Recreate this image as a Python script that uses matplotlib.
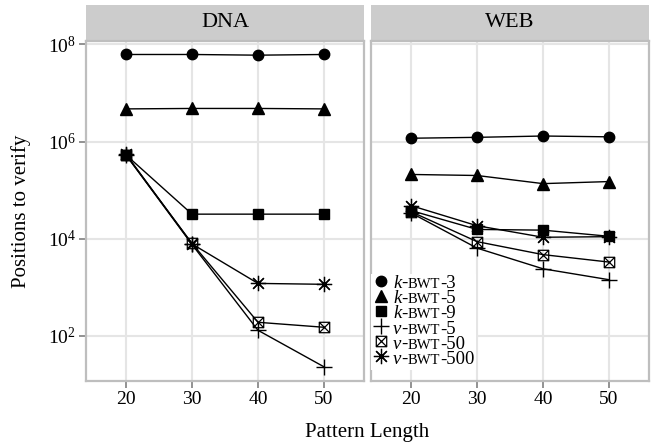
import matplotlib
matplotlib.use("Agg")
import matplotlib.pyplot as plt
from matplotlib.patches import Rectangle
from matplotlib.path import Path
from matplotlib.lines import Line2D
from matplotlib.ticker import LogLocator, LogFormatterMathtext, NullLocator, FixedLocator
from matplotlib.offsetbox import AnchoredOffsetbox, VPacker, HPacker, TextArea, DrawingArea

plt.rcParams['font.family'] = ['Liberation Serif', 'DejaVu Serif']
plt.rcParams['mathtext.fontset'] = 'stix'

# ---------------- data ----------------
pattern_length = [20, 30, 40, 50]
panels = ["DNA", "WEB"]
series_names = ["k-BWT-3", "k-BWT-5", "k-BWT-9", "v-BWT-5", "v-BWT-50", "v-BWT-500"]

dna_k3 = [6.2e7, 6.2e7, 6.0e7, 6.2e7]
dna_k5 = [4.7e6, 4.8e6, 4.8e6, 4.7e6]
dna_k9 = [5.3e5, 3.2e4, 3.2e4, 3.2e4]
dna_v5 = [5.3e5, 7.6e3, 1.3e2, 2.3e1]
dna_v50 = [5.3e5, 8.0e3, 1.9e2, 1.5e2]
dna_v500 = [5.5e5, 7.8e3, 1.2e3, 1.15e3]

web_k3 = [1.17e6, 1.22e6, 1.30e6, 1.25e6]
web_k5 = [2.1e5, 2.0e5, 1.36e5, 1.5e5]
web_k9 = [3.8e4, 1.55e4, 1.5e4, 1.12e4]
web_v5 = [3.4e4, 6.4e3, 2.4e3, 1.43e3]
web_v50 = [3.6e4, 8.7e3, 4.7e3, 3.3e3]
web_v500 = [4.8e4, 1.85e4, 1.07e4, 1.1e4]

panel_data = {
    "DNA": [dna_k3, dna_k5, dna_k9, dna_v5, dna_v50, dna_v500],
    "WEB": [web_k3, web_k5, web_k9, web_v5, web_v50, web_v500],
}

# ---------------- styles ----------------
boxx = Path([(-1, -1), (1, -1), (1, 1), (-1, 1), (-1, -1), (1, 1), (-1, 1), (1, -1)],
            [Path.MOVETO, Path.LINETO, Path.LINETO, Path.LINETO, Path.CLOSEPOLY,
             Path.LINETO, Path.MOVETO, Path.LINETO])
marker_styles = [
    dict(marker='o', markersize=7.5, markerfacecolor='black', markeredgecolor='black'),
    dict(marker='^', markersize=8.5, markerfacecolor='black', markeredgecolor='black'),
    dict(marker='s', markersize=7.5, markerfacecolor='black', markeredgecolor='black'),
    dict(marker='+', markersize=11, markeredgewidth=1.0, markeredgecolor='black'),
    dict(marker=boxx, markersize=7.5, markerfacecolor='none', markeredgewidth=0.9, markeredgecolor='black'),
    dict(marker=(8, 2, 0), markersize=11, markeredgewidth=0.9, markeredgecolor='black'),
]

grid_c = '#E5E5E5'
border_c = '#BEBEBE'
strip_c = '#CCCCCC'

fig = plt.figure(figsize=(6.62, 4.46), dpi=100)
W, H = 662.0, 446.0
lefts = [86, 371]
rights = [364, 649]
top_px, bot_px = 41, 381
axes = []
for i, name in enumerate(panels):
    ax = fig.add_axes([lefts[i] / W, 1 - bot_px / H, (rights[i] - lefts[i]) / W, (bot_px - top_px) / H])
    axes.append(ax)
    ax.set_yscale('log')
    ax.set_xlim(13.94, 56.06)
    ax.set_ylim(10 ** 1.07, 10 ** 8.07)
    ax.xaxis.set_major_locator(FixedLocator(pattern_length))
    ax.yaxis.set_major_locator(LogLocator(base=100.0, numticks=10))
    ax.yaxis.set_minor_locator(NullLocator())
    ax.yaxis.set_major_formatter(LogFormatterMathtext(base=10))
    ax.grid(True, which='major', color=grid_c, linewidth=1.5, zorder=0)
    ax.set_axisbelow(True)
    for s in ax.spines.values():
        s.set_color(border_c)
        s.set_linewidth(1.6)
    ax.tick_params(axis='both', which='major', direction='out', length=5, width=1.2,
                   color='#7F7F7F', labelsize=14, pad=2, labelcolor='black')
    if i > 0:
        ax.tick_params(axis='y', left=False, labelleft=False)
    for vals, st in zip(panel_data[name], marker_styles):
        ax.plot(pattern_length, vals, color='black', linewidth=1.0, zorder=3, **st)
    # strip
    strip_h = (top_px - 5.5) / (bot_px - top_px)
    ax.add_patch(Rectangle((0, 1 + 1.5 / (bot_px - top_px)), 1, strip_h - 1.5 / (bot_px - top_px),
                           transform=ax.transAxes, facecolor=strip_c, edgecolor='none', clip_on=False))
    ax.text(0.5, 1 + strip_h / 2 + 0.5 / (bot_px - top_px), name, transform=ax.transAxes,
            ha='center', va='center', fontsize=16)

axes[0].set_ylabel("Positions to verify", fontsize=15, labelpad=12)
fig.text(((lefts[0] + rights[1]) / 2) / W, 1 - 432 / H, "Pattern Length", ha='center', va='center', fontsize=15)

# ---------------- legend ----------------
rows = []
fs = 13.5
for name, st in zip(series_names, marker_styles):
    pre, mid, num = name.split('-')
    da = DrawingArea(15, 10.8, 0, 3.5)
    da.add_artist(Line2D([6], [5.4], linestyle='none', **st))
    t1 = TextArea(pre, textprops=dict(fontstyle='italic', fontsize=fs))
    t2 = TextArea("-", textprops=dict(fontsize=fs))
    t3 = TextArea(mid, textprops=dict(fontsize=fs * 0.78))
    t4 = TextArea("-" + num, textprops=dict(fontsize=fs))
    rows.append(HPacker(children=[da, t1, t2, t3, t4], sep=0, pad=0, align='baseline'))
vp = VPacker(children=rows, sep=-2.0, pad=0, align='left')
ab = AnchoredOffsetbox(loc='upper left', child=vp, bbox_to_anchor=(0.0, 0.315),
                       bbox_transform=axes[1].transAxes, frameon=True, pad=0.1, borderpad=0)
ab.patch.set_facecolor('white')
ab.patch.set_edgecolor('none')
ab.set_zorder(5)
axes[1].add_artist(ab)

fig.savefig("out.png", dpi=100)
